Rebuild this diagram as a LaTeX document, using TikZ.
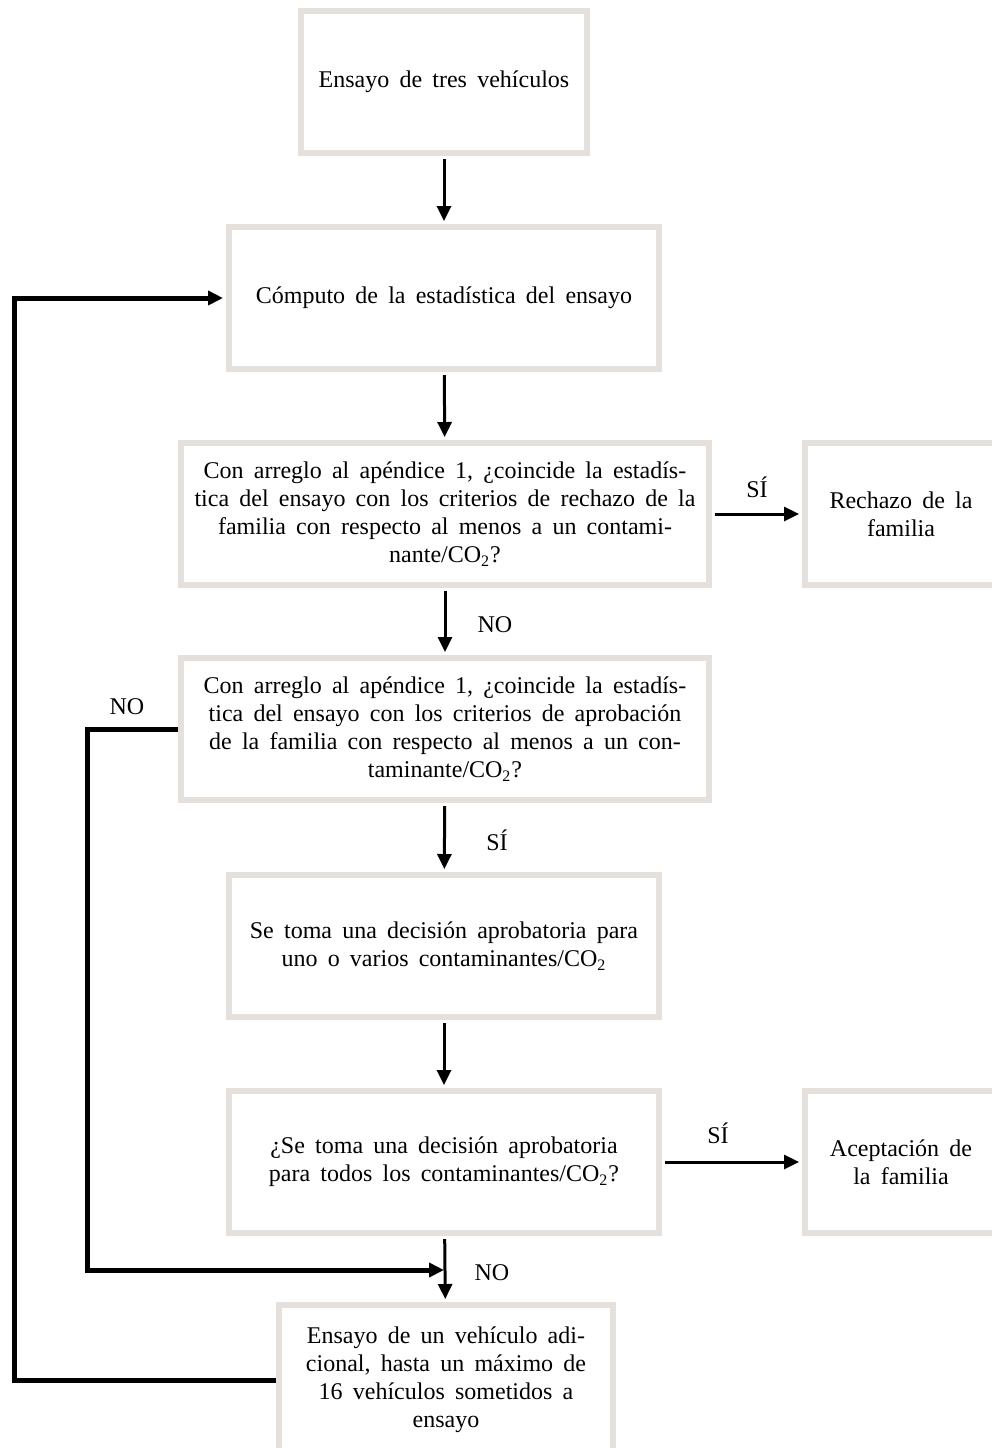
\documentclass[tikz,border=0pt]{standalone}
\usepackage{fontspec}
\setmainfont{Liberation Serif}[WordSpace=1.7]
\usepackage{xcolor}
\definecolor{boxgray}{RGB}{229,224,220}
\usepackage{tikz}
\usetikzlibrary{positioning}
\usetikzlibrary{arrows.meta}

\begin{document}
\begin{tikzpicture}[x=0.5pt,y=-0.5pt,
  every node/.style={font=\fontsize{12}{14}\selectfont},
  stepbox/.style={draw=boxgray,line width=3pt,align=center,minimum height=71pt,inner sep=0pt},
  flow/.style={-{Triangle[length=7.5pt,width=7pt]},line width=1.5pt,shorten <=1.5pt,shorten >=1.5pt},
  loopback/.style={-{Triangle[length=7.5pt,width=7pt]},line width=2.5pt}]
\useasboundingbox (0,0) rectangle (992,1448);
\clip (0,0) rectangle (992,1448);
% boxes
\node[stepbox,minimum width=143pt] (ensayo) at (444,82) {Ensayo de tres vehículos};
\node[stepbox,minimum width=215pt] (computo) at (444,298) {Cómputo de la estadística del ensayo};
\node[stepbox,minimum width=264pt] (critrech) at (445,514) {Con arreglo al apéndice 1, ¿coincide la estadís-\\tica del ensayo con los criterios de rechazo de la\\familia con respecto al menos a un contami-\\nante/CO\textsubscript{2}?};
\node[stepbox,minimum width=96pt] (rechazo) at (901,514) {Rechazo de la\\familia};
\node[stepbox,minimum width=264pt] (critaprob) at (445,729) {Con arreglo al apéndice 1, ¿coincide la estadís-\\tica del ensayo con los criterios de aprobación\\de la familia con respecto al menos a un con-\\taminante/CO\textsubscript{2}?};
\node[stepbox,minimum width=215pt] (decision) at (444,946) {Se toma una decisión aprobatoria para\\uno o varios contaminantes/CO\textsubscript{2}};
\node[stepbox,minimum width=215pt] (todos) at (444,1162) {¿Se toma una decisión aprobatoria\\para todos los contaminantes/CO\textsubscript{2}?};
\node[stepbox,minimum width=96pt] (acepta) at (901,1162) {Aceptación de\\la familia};
\node[stepbox,minimum width=167pt,minimum height=75pt] (adicional) at (446,1380) {Ensayo de un vehículo adi-\\cional, hasta un máximo de\\16 vehículos sometidos a\\ensayo};
% labels
\node (si1) at (757,487) {SÍ};
\node (no1) at (495,625) {NO};
\node (si2) at (497,840) {SÍ};
\node (no2) at (127,707) {NO};
\node (si3) at (718,1133) {SÍ};
\node (no3) at (492,1273) {NO};
% connectors
\draw[flow] (ensayo) -- (computo);
\draw[flow] (computo) -- (critrech);
\draw[flow] (critrech) -- (critaprob);
\draw[flow] (critrech) -- (rechazo);
\draw[flow] (critaprob) -- (decision);
\draw[flow] (decision) -- (todos);
\draw[flow] (todos) -- (acepta);
\draw[flow] (todos) -- (adicional);
\coordinate (nocorner) at (87,1270);
\coordinate (nomerge) at (444,1270);
\draw[loopback] (critaprob.west) -| (nocorner) -- (nomerge);
\coordinate (backcorner) at (14,298);
\draw[loopback,shorten >=1.5pt] (adicional.west) -| (backcorner) -- (computo.west);
\end{tikzpicture}
\end{document}
